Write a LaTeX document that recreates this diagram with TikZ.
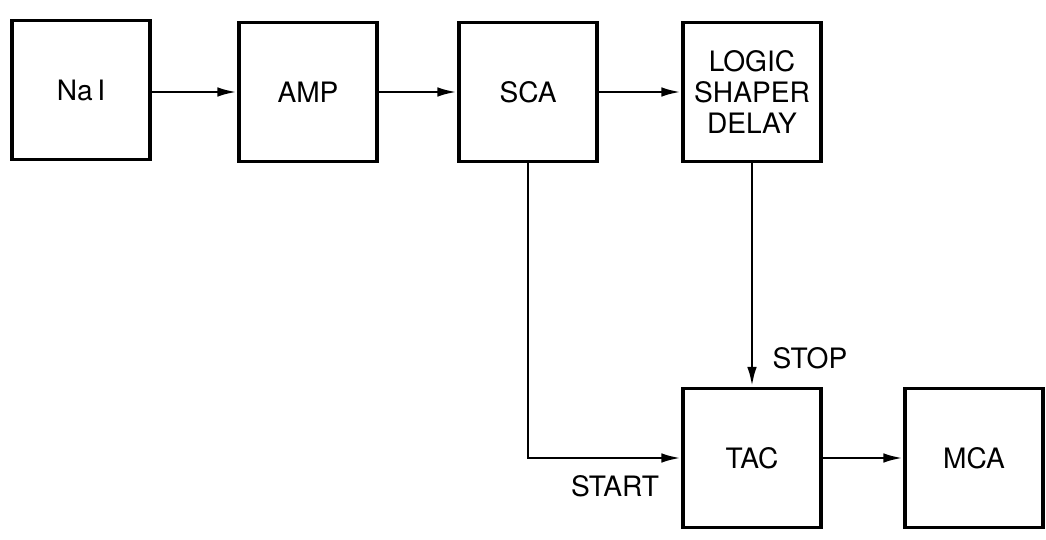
\documentclass[tikz,border=0pt]{standalone}
\usepackage{fontspec}
\setmainfont{TeX Gyre Heros}
\usetikzlibrary{arrows.meta}

\begin{document}
\begin{tikzpicture}[x=0.02cm,y=-0.02cm,>={Latex[length=4mm,width=1.9mm]},
  unit/.style={draw,line width=1.8pt,minimum width=2.76cm,minimum height=2.78cm,align=center,font=\fontsize{16}{17.6}\selectfont,inner sep=0pt},
  wire/.style={line width=1.7pt,->},
  tag/.style={font=\fontsize{16}{17.6}\selectfont,inner sep=0pt}]
\useasboundingbox (0,0) rectangle (1046,540);
\node[unit] (nai) at (81,90) {Na\,I};
\node[unit] (amp) at (308,92) {AMP};
\node[unit] (sca) at (528,92) {SCA};
\node[unit] (lsd) at (752,92) {LOGIC\\SHAPER\\DELAY};
\node[unit] (tac) at (752,458) {TAC};
\node[unit] (mca) at (974,458) {MCA};
\draw[wire] (nai.east|-amp.west)--(amp.west);
\draw[wire] (amp.east)--(sca.west);
\draw[wire] (sca.east)--(lsd.west);
\draw[wire] (lsd.south)--(tac.north);
\draw[wire] (sca.south) |- (tac.west);
\draw[wire] (tac.east)--(mca.west);
\node[tag] (stop) at (810,358) {STOP};
\node[tag] (start) at (615,486) {START};
\end{tikzpicture}
\end{document}
